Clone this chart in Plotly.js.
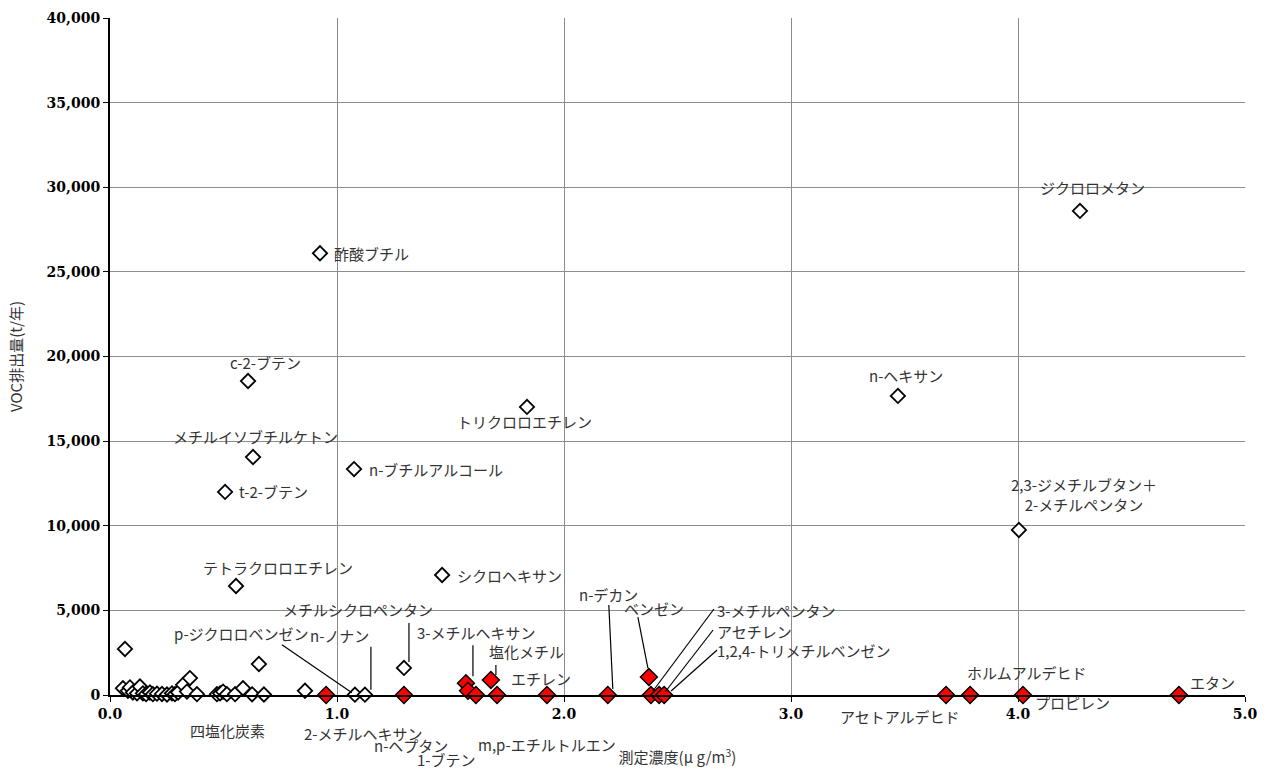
<!DOCTYPE html>
<html>
<head>
<meta charset="utf-8">
<script src="https://cdn.plot.ly/plotly-3.0.1.min.js"></script>
<style>html,body{margin:0;padding:0;background:#fff;}#chart{width:1269px;height:772px;}</style>
</head>
<body>
<div id="chart"></div>
<script>
// ---- Data ----
// Open diamonds: substances with emission data
const openNames = ["酢酸ブチル","c-2-ブテン","メチルイソブチルケトン","t-2-ブテン","テトラクロロエチレン",
  "n-ブチルアルコール","トリクロロエチレン","シクロヘキサン","n-ヘキサン","ジクロロメタン",
  "2,3-ジメチルブタン＋<br>2-メチルペンタン","メチルシクロペンタン","p-ジクロロベンゼン","n-ノナン",
  "","","","","","","","","","","","","","","","","","","","","","","","","","","","","",""];
const openX = [0.925,0.608,0.630,0.507,0.555,1.075,1.837,1.463,3.471,4.273,4.004,1.295,1.079,1.123,
  0.057,0.066,0.079,0.088,0.101,0.119,0.132,0.145,0.159,0.176,0.189,0.207,0.229,0.251,0.273,0.286,
  0.300,0.322,0.339,0.352,0.383,0.471,0.485,0.498,0.515,0.551,0.586,0.626,0.656,0.678,0.859];
const openY = [26100,18550,14060,12000,6440,13350,17020,7090,17670,28600,9750,1600,20,20,
  400,2720,250,450,150,100,500,100,50,150,50,80,60,30,100,50,
  150,600,200,1000,50,50,100,200,50,50,400,40,1830,30,250];

// Filled red diamonds
const redNames = ["四塩化炭素","2-メチルヘキサン","3-メチルヘキサン","n-ヘプタン","1-ブテン","塩化メチル",
  "m,p-エチルトルエン","エチレン","n-デカン","ベンゼン","3-メチルペンタン","アセチレン",
  "1,2,4-トリメチルベンゼン","アセトアルデヒド","ホルムアルデヒド","プロピレン","エタン"];
const redX = [0.952,1.295,1.568,1.577,1.612,1.678,1.705,1.925,2.193,2.374,2.383,2.419,2.441,3.683,3.789,4.022,4.709];
const redY = [0,0,700,250,0,890,0,0,0,1060,0,0,0,0,0,0,0];

const xTitle = "測定濃度(μ g/m<sup>3</sup>)";
const yTitle = "VOC排出量(t/年)";

// ---- Label placement (pixel offsets from the point; [xshift, yshift, xanchor, leader]) ----
// leader: [dx0, dy0, dx1, dy1] in pixels relative to the point (y up)
const openLabelPos = {
  "酢酸ブチル":[12,0,"left"],
  "c-2-ブテン":[17,19,"center"],
  "メチルイソブチルケトン":[2,21,"center"],
  "t-2-ブテン":[12,0,"left"],
  "テトラクロロエチレン":[42,19,"center"],
  "n-ブチルアルコール":[13,0,"left"],
  "トリクロロエチレン":[-3,-15,"center"],
  "シクロヘキサン":[13,0,"left"],
  "n-ヘキサン":[8,20,"center"],
  "ジクロロメタン":[13,23,"center"],
  "2,3-ジメチルブタン＋<br>2-メチルペンタン":[65,35,"center"],
  "メチルシクロペンタン":[-46,58,"center",[5,6,5,45]],
  "p-ジクロロベンゼン":[-113,61,"center",[-3,2,-73,50]],
  "n-ノナン":[-25,59,"center",[6,5,6,48]]
};
const redLabelPos = {
  "四塩化炭素":[-99,-35,"center",[-4,-2,-60,-26]],
  "2-メチルヘキサン":[-40,-38,"center",[5,-3,5,-29]],
  "3-メチルヘキサン":[11,51,"center",[7,7,7,38]],
  "n-ヘプタン":[-57,-55,"center",[-2,-6,-19,-45]],
  "1-ブテン":[-29,-64,"center",[3,-2,-14,-59]],
  "塩化メチル":[36,28,"center",[5,5,5,15]],
  "m,p-エチルトルエン":[50,-49,"center",[2,-4,2,-39]],
  "エチレン":[-6,17,"center"],
  "n-デカン":[1,101,"center",[5,6,1,90]],
  "ベンゼン":[5,69,"center",[-1,9,-11,60]],
  "3-メチルペンタン":[64,85,"left",[2,4,63,86]],
  "アセチレン":[56,64,"left",[6,3,54,65]],
  "1,2,4-トリメチルベンゼン":[51,45,"left",[7,4,53,45]],
  "アセトアルデヒド":[-46,-21,"center"],
  "ホルムアルデヒド":[57,23,"center"],
  "プロピレン":[50,-7,"center"],
  "エタン":[34,13,"center"]
};

const labelFont = {family:"Noto Sans CJK JP", size:15, color:"#333"};
const annotations = [];
const shapes = [];
function addLabels(names, xs, ys, pos){
  names.forEach((n,i)=>{
    if(!n || !pos[n]) return;
    const p = pos[n];
    annotations.push({x:xs[i], y:ys[i], xref:"x", yref:"y", text:n, showarrow:false,
      xshift:p[0], yshift:p[1], xanchor:p[2], yanchor:"middle", font:labelFont, align:"center"});
    if(p[3]){
      const l = p[3];
      shapes.push({type:"line", xref:"x", yref:"y", xsizemode:"pixel", ysizemode:"pixel",
        xanchor:xs[i], yanchor:ys[i], x0:l[0], y0:l[1], x1:l[2], y1:l[3],
        line:{color:"#000", width:1.2}});
    }
  });
}
addLabels(openNames, openX, openY, openLabelPos);
addLabels(redNames, redX, redY, redLabelPos);

const traces = [
  {type:"scatter", mode:"markers", x:openX, y:openY, text:openNames, hoverinfo:"text+x+y",
   marker:{symbol:"diamond", size:11, color:"#fff", line:{color:"#000", width:1.8}}, cliponaxis:false},
  {type:"scatter", mode:"markers", x:redX, y:redY, text:redNames, hoverinfo:"text+x+y",
   marker:{symbol:"diamond", size:13, color:"#ff0000", line:{color:"#000", width:1.5}}, cliponaxis:false}
];

const tickFont = {family:"DejaVu Serif", size:14, color:"#000", weight:"bold"};
const layout = {
  width:1269, height:772,
  margin:{l:110, r:24, t:18, b:77},
  paper_bgcolor:"#fff", plot_bgcolor:"#fff",
  showlegend:false,
  font:{family:"Noto Sans CJK JP"},
  xaxis:{range:[0,5], dtick:1, tick0:0, tickformat:".1f", showgrid:true, gridcolor:"#8c8c8c", gridwidth:1,
    zeroline:false, showline:true, linecolor:"#000", linewidth:2, ticks:"outside", ticklen:5, tickcolor:"#000",
    tickfont:tickFont, automargin:false,
    title:{text:xTitle, font:{family:"Noto Sans CJK JP", size:15, color:"#333"}, standoff:32}},
  yaxis:{range:[0,40000], dtick:5000, tick0:0, tickformat:",d", showgrid:true, gridcolor:"#8c8c8c", gridwidth:1,
    zeroline:false, showline:true, linecolor:"#000", linewidth:2, ticks:"outside", ticklen:5, tickcolor:"#000",
    tickfont:tickFont, automargin:false,
    title:{text:yTitle, font:{family:"Noto Sans CJK JP", size:15, color:"#333"}, standoff:20}},
  annotations:annotations,
  shapes:shapes
};
Plotly.newPlot("chart", traces, layout, {displayModeBar:false, staticPlot:true});
</script>
</body>
</html>
